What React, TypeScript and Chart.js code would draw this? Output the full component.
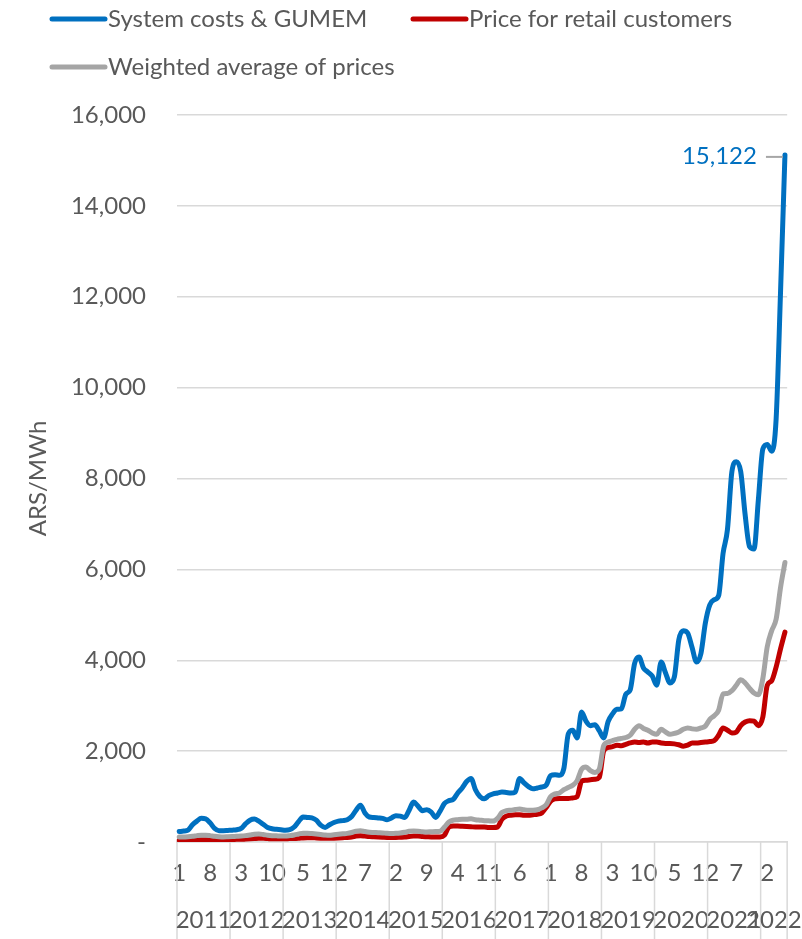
import React, { useEffect, useRef } from 'react';
import { Chart, registerables } from 'chart.js';

Chart.register(...registerables);

// ---------- data ----------
const YEARS = [2011, 2012, 2013, 2014, 2015, 2016, 2017, 2018, 2019, 2020, 2021, 2022];
const MONTHS_PER_YEAR = [12, 12, 12, 12, 12, 12, 12, 12, 12, 12, 12, 6];
const MONTH_TICK_EVERY = 7;

const SERIES_NAMES = ['System costs & GUMEM', 'Price for retail customers', 'Weighted average of prices'];

const SYSTEM_COSTS = [
  230, 240, 260, 380, 460, 520, 510, 420, 300, 250, 250, 255,
  260, 270, 300, 400, 480, 505, 460, 390, 320, 290, 280, 270,
  260, 270, 330, 450, 550, 540, 530, 480, 370, 320, 380, 430,
  460, 470, 490, 560, 700, 810, 640, 550, 540, 530, 520, 490,
  530, 580, 570, 540, 700, 880, 790, 690, 710, 660, 540, 680,
  850, 910, 940, 1080, 1190, 1330, 1400, 1150, 1000, 950, 1020, 1060,
  1080, 1100, 1090, 1080, 1100, 1400, 1300, 1220, 1170, 1190, 1210, 1250,
  1460, 1480, 1470, 1620, 2380, 2460, 2290, 2860, 2660, 2560, 2580, 2450,
  2290, 2650, 2820, 2920, 2930, 3250, 3350, 3930, 4070, 3830, 3740, 3650,
  3450, 3960, 3720, 3500, 3640, 4450, 4650, 4600, 4280, 3960, 4150, 4820,
  5220, 5330, 5420, 6350, 6880, 8150, 8370, 8150, 7200, 6500, 6450, 7550,
  8650, 8750, 8600, 9300, 12100, 15122,
];

const RETAIL_PRICE = [
  40, 40, 40, 45, 50, 50, 50, 50, 50, 50, 50, 55,
  55, 60, 60, 65, 70, 75, 80, 80, 75, 70, 70, 70,
  70, 75, 75, 80, 90, 95, 95, 90, 85, 80, 80, 85,
  90, 95, 100, 110, 130, 140, 130, 120, 115, 110, 105, 100,
  100, 100, 105, 110, 120, 130, 130, 120, 115, 110, 110, 110,
  150, 330, 350, 350, 345, 340, 335, 330, 330, 330, 320, 320,
  330, 500, 570, 590, 600, 600, 590, 590, 600, 610, 640, 760,
  900, 950, 960, 960, 960, 970, 1000, 1340, 1360, 1370, 1380, 1420,
  2000, 2080, 2100, 2130, 2120, 2150, 2180, 2200, 2190, 2200, 2180, 2200,
  2200, 2180, 2170, 2170, 2160, 2140, 2110, 2130, 2180, 2180, 2190, 2200,
  2210, 2230, 2350, 2510, 2460, 2400, 2420, 2560, 2640, 2670, 2660, 2560,
  2750, 3450, 3550, 3850, 4250, 4620,
];

const WEIGHTED_AVG = [
  110, 110, 115, 125, 140, 150, 150, 140, 125, 115, 110, 115,
  120, 125, 130, 140, 155, 170, 175, 165, 150, 140, 135, 130,
  130, 140, 155, 175, 195, 195, 185, 175, 165, 155, 150, 160,
  170, 180, 190, 210, 240, 250, 230, 215, 210, 205, 200, 190,
  185, 190, 200, 215, 235, 240, 235, 225, 220, 225, 230, 235,
  330, 440, 480, 490, 500, 500, 510, 490, 480, 470, 465, 460,
  520, 650, 690, 700, 715, 725, 710, 700, 700, 710, 750, 820,
  1000, 1060, 1080, 1150, 1200, 1250, 1350, 1600, 1650, 1570, 1530, 1600,
  2120, 2200, 2230, 2260, 2280, 2300, 2350, 2480, 2560, 2500, 2460, 2400,
  2370, 2480, 2420, 2370, 2390, 2420, 2480, 2510, 2490, 2480, 2510, 2550,
  2700, 2780, 2900, 3260, 3270, 3330, 3450, 3570, 3500, 3380, 3280, 3240,
  3600, 4300, 4650, 4900, 5600, 6150,
];

const Y_MIN = 0;
const Y_MAX = 16000;
const Y_STEP = 2000;
const Y_TITLE = 'ARS/MWh';

// ---------- style ----------
const COLORS = ['#0070C0', '#C00000', '#A5A5A5'];
const TEXT = '#595959';
const GRID = '#D9D9D9';
const FONT = "Lato, 'Open Sans', sans-serif";
const FS = 24;

// category labels (month numbers) and their years
const MONTH_LABELS: string[] = [];
YEARS.forEach((y, k) => {
  for (let m = 1; m <= MONTHS_PER_YEAR[k]; m++) MONTH_LABELS.push(String(m));
});

const legendPlugin = {
  id: 'customLegend',
  afterDraw(chart: any) {
    const ctx = chart.ctx;
    const slots = [
      { x: 50, y: 19 },
      { x: 411, y: 19 },
      { x: 50, y: 67 },
    ];
    ctx.save();
    ctx.font = `${FS}px ${FONT}`;
    ctx.textBaseline = 'middle';
    ctx.textAlign = 'left';
    chart.data.datasets.forEach((ds: any, i: number) => {
      const s = slots[i];
      ctx.strokeStyle = ds.borderColor;
      ctx.lineWidth = 5;
      ctx.lineCap = 'round';
      ctx.beginPath();
      ctx.moveTo(s.x + 2, s.y);
      ctx.lineTo(s.x + 55, s.y);
      ctx.stroke();
      ctx.fillStyle = TEXT;
      ctx.fillText(ds.label, s.x + 58, s.y);
    });
    ctx.restore();
  },
};

const yearAxisPlugin = {
  id: 'yearAxis',
  afterDraw(chart: any) {
    const ctx = chart.ctx;
    const xs = chart.scales.x;
    const area = chart.chartArea;
    const n = chart.data.labels.length;
    const w = (xs.right - xs.left) / n;
    ctx.save();
    ctx.strokeStyle = GRID;
    ctx.lineWidth = 1.5;
    ctx.fillStyle = TEXT;
    ctx.font = `${FS}px ${FONT}`;
    ctx.textAlign = 'center';
    ctx.textBaseline = 'middle';
    let start = 0;
    const drawSep = (px: number) => {
      ctx.beginPath();
      ctx.moveTo(px, area.bottom);
      ctx.lineTo(px, chart.height);
      ctx.stroke();
    };
    YEARS.forEach((yr, k) => {
      const cnt = MONTHS_PER_YEAR[k];
      const left = xs.getPixelForValue(start) - w / 2;
      drawSep(left);
      const center = left + (cnt * w) / 2;
      ctx.fillText(String(yr), center, 920);
      start += cnt;
    });
    drawSep(xs.getPixelForValue(n - 1) + w / 2);
    ctx.restore();
  },
};

const lastLabelPlugin = {
  id: 'lastLabel',
  afterDatasetsDraw(chart: any) {
    const meta = chart.getDatasetMeta(0);
    const pts = meta.data;
    const p = pts[pts.length - 1];
    const val = chart.data.datasets[0].data[pts.length - 1];
    const ctx = chart.ctx;
    ctx.save();
    ctx.strokeStyle = '#A6A6A6';
    ctx.lineWidth = 2;
    ctx.beginPath();
    ctx.moveTo(p.x - 19, p.y + 2);
    ctx.lineTo(p.x - 2, p.y + 2);
    ctx.stroke();
    ctx.fillStyle = COLORS[0];
    ctx.font = `${FS}px ${FONT}`;
    ctx.textAlign = 'right';
    ctx.textBaseline = 'middle';
    ctx.fillText(Number(val).toLocaleString('en-US'), p.x - 28, p.y + 1);
    ctx.restore();
  },
};

export default function App() {
  const ref = useRef<HTMLCanvasElement | null>(null);

  useEffect(() => {
    if (!ref.current) return;
    Chart.defaults.font.family = FONT;
    Chart.defaults.font.size = FS;
    Chart.defaults.color = TEXT;

    const series = [SYSTEM_COSTS, RETAIL_PRICE, WEIGHTED_AVG];
    const chart = new Chart(ref.current, {
      type: 'line',
      data: {
        labels: MONTH_LABELS,
        datasets: series.map((d, i) => ({
          label: SERIES_NAMES[i],
          data: d,
          borderColor: COLORS[i],
          backgroundColor: COLORS[i],
          borderWidth: 5,
          pointRadius: 0,
          pointHoverRadius: 0,
          fill: false,
          tension: 0.3,
          cubicInterpolationMode: 'monotone' as const,
          borderCapStyle: 'round' as const,
          borderJoinStyle: 'round' as const,
          order: 2 - i,
        })),
      },
      options: {
        responsive: false,
        animation: false,
        events: [],
        layout: { padding: { top: 115, right: 14, left: 0, bottom: 0 } },
        plugins: {
          legend: { display: false },
          tooltip: { enabled: false },
          title: { display: false },
        },
        scales: {
          x: {
            type: 'category',
            offset: true,
            grid: { display: false, drawTicks: false },
            border: { display: true, color: GRID, width: 1.5 },
            ticks: {
              autoSkip: false,
              maxRotation: 0,
              minRotation: 0,
              padding: 17,
              color: TEXT,
              font: { size: FS, family: FONT },
              callback: (_v: any, i: number) => (i % MONTH_TICK_EVERY === 0 ? MONTH_LABELS[i] : ''),
            },
            afterFit: (s: any) => {
              s.height = 97;
            },
          },
          y: {
            min: Y_MIN,
            max: Y_MAX,
            grid: { color: GRID, lineWidth: 1.5, drawTicks: false },
            border: { display: false },
            ticks: {
              stepSize: Y_STEP,
              padding: 31,
              color: TEXT,
              font: { size: FS, family: FONT },
              callback: (v: any) => (Number(v) === 0 ? '-' : Number(v).toLocaleString('en-US')),
            },
            title: {
              display: true,
              text: Y_TITLE,
              color: TEXT,
              font: { size: FS, family: FONT },
              padding: { top: 24, bottom: 0 },
            },
            afterFit: (s: any) => {
              s.width = 177;
            },
          },
        },
      },
      plugins: [legendPlugin, yearAxisPlugin, lastLabelPlugin],
    } as any);
    return () => chart.destroy();
  }, []);

  return (
    <div style={{ position: 'absolute', left: 0, top: 0, width: 802, height: 939, background: '#fff' }}>
      <canvas ref={ref} width={802} height={939} style={{ display: 'block' }} />
    </div>
  );
}
